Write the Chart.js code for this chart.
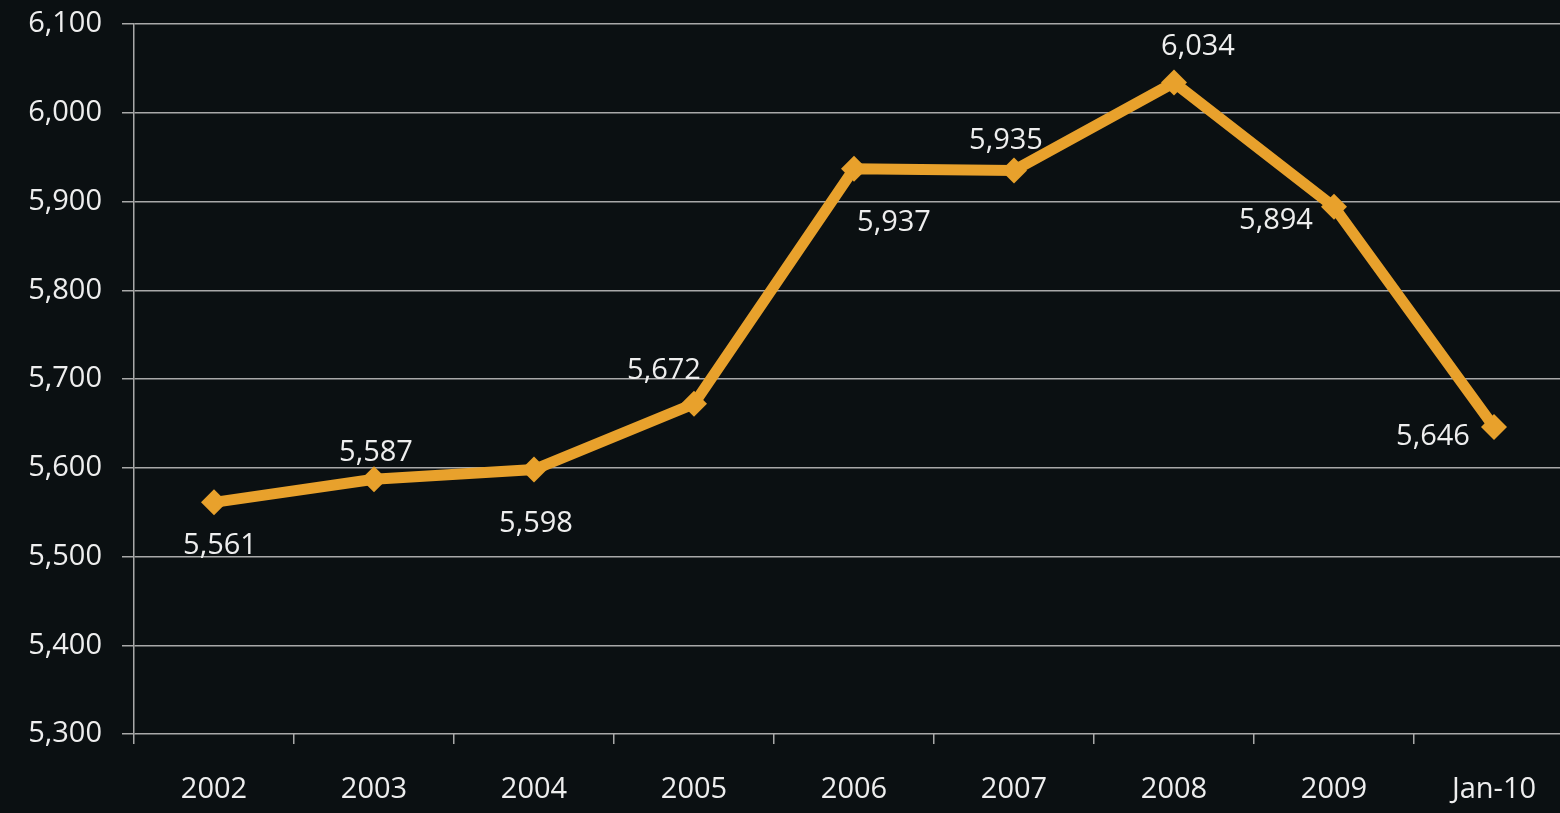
<!DOCTYPE html>
<html>
<head>
<meta charset="utf-8">
<script src="https://cdn.jsdelivr.net/npm/chart.js@4.4.1/dist/chart.umd.min.js"></script>
<style>
  html, body { margin: 0; padding: 0; background: #0b1012; overflow: hidden; }
  #wrap { position: relative; width: 1560px; height: 813px; overflow: hidden; }
  #myChart { position: absolute; left: 0; top: 0; }
</style>
</head>
<body>
<div id="wrap"><canvas id="myChart" width="1587" height="813"></canvas></div>
<script>
"use strict";
// chart data
var categories = ['2002', '2003', '2004', '2005', '2006', '2007', '2008', '2009', 'Jan-10'];
var values = [5561, 5587, 5598, 5672, 5937, 5935, 6034, 5894, 5646];
var yMin = 5300;
var yMax = 6100;
var yStep = 100;

// where each value label sits relative to its point (dx, dy in px)
var labelOffsets = [[6, 43], [2, -27], [2, 54], [-30, -33], [40, 54], [-8, -30], [24, -36], [-58, 14], [-61, 10]];

var textColor = '#eeeeee';
var gridColor = '#a9a9a9';
var lineColor = '#e8a12c';
var fontFamily = "'Open Sans', 'DejaVu Sans', sans-serif";

Chart.defaults.font.family = fontFamily;
Chart.defaults.color = textColor;

var valueLabels = {
    id: 'valueLabels',
    afterDatasetsDraw: function (chart) {
        var ctx = chart.ctx;
        var meta = chart.getDatasetMeta(0);
        ctx.save();
        ctx.font = '29px ' + fontFamily;
        ctx.fillStyle = textColor;
        ctx.textAlign = 'center';
        ctx.textBaseline = 'middle';
        meta.data.forEach(function (pt, i) {
            var off = labelOffsets[i];
            ctx.fillText(values[i].toLocaleString('en-US'), pt.x + off[0], pt.y + off[1]);
        });
        ctx.restore();
    }
};

var ctx = document.getElementById('myChart').getContext('2d');
var myChart = new Chart(ctx, {
    type: 'line',
    data: {
        labels: categories,
        datasets: [{
            data: values,
            borderColor: lineColor,
            backgroundColor: lineColor,
            borderWidth: 11,
            pointStyle: 'rectRot',
            pointRadius: 13,
            pointBorderWidth: 0,
            tension: 0
        }]
    },
    options: {
        responsive: false,
        animation: false,
        layout: { padding: { top: 24, right: 0, bottom: 0, left: 0 } },
        plugins: {
            legend: { display: false },
            tooltip: { enabled: false }
        },
        scales: {
            x: {
                offset: true,
                afterFit: function (s) {
                    s.height = 79;
                    s.paddingLeft = 0;
                    s.paddingRight = 0;
                },
                grid: {
                    offset: true,
                    drawOnChartArea: false,
                    drawTicks: true,
                    tickLength: 10,
                    color: gridColor,
                    lineWidth: 1.5
                },
                border: { display: false },
                ticks: {
                    color: textColor,
                    padding: 28,
                    maxRotation: 0,
                    font: { size: 29 }
                }
            },
            y: {
                min: yMin,
                max: yMax,
                afterFit: function (s) {
                    s.width = 134;
                    s.paddingTop = 0;
                    s.paddingBottom = 0;
                },
                grid: {
                    color: gridColor,
                    lineWidth: 1.5,
                    tickLength: 12
                },
                border: { display: true, color: gridColor, width: 1.5 },
                ticks: {
                    stepSize: yStep,
                    color: textColor,
                    padding: 20,
                    font: { size: 29 },
                    callback: function (v) { return v.toLocaleString('en-US'); }
                }
            }
        }
    },
    plugins: [valueLabels]
});
</script>
</body>
</html>
